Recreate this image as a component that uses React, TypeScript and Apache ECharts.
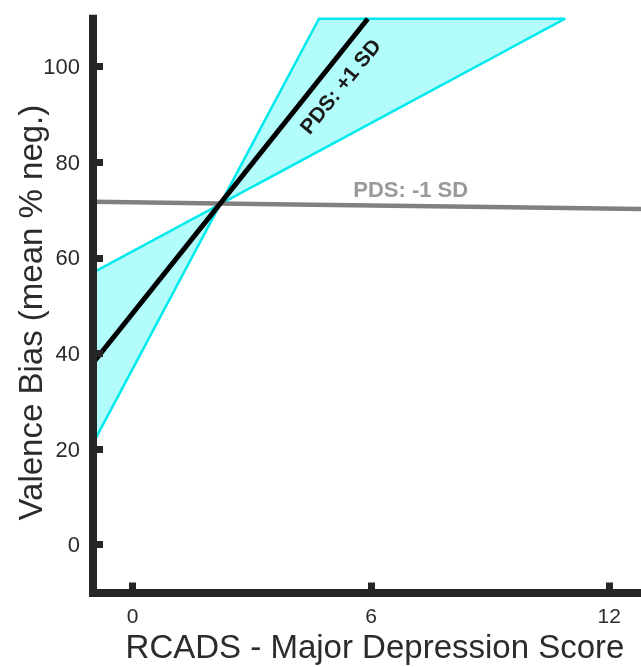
import React, { useEffect, useRef } from "react";
import * as echarts from "echarts";

// Data
const xTicks = [0, 6, 12];
const yTicks = [0, 20, 40, 60, 80, 100];

// PDS +1 SD regression line (clipped at the top of the axis)
const plusSdX = [-1, 5.92];
const plusSdY = [38, 110];

// PDS -1 SD regression line
const minusSdX = [-1, 12.8];
const minusSdY = [71.7, 70.2];

// Confidence band edges (both clipped at the top of the axis)
const bandShallowX = [-1, 10.89];
const bandShallowY = [56.9, 110];
const bandSteepX = [-1, 4.69];
const bandSteepY = [21.2, 110];

// Annotation labels
const labelTexts = ["PDS: +1 SD", "PDS: -1 SD"];
const labelX = [5.22, 7.0];
const labelY = [95.9, 74.2];

const FONT = 'Helvetica, "Liberation Sans", Arial, sans-serif';

export default function App() {
  const ref = useRef<HTMLDivElement>(null);

  useEffect(() => {
    if (!ref.current) return;
    const chart = echarts.init(ref.current, null, { renderer: "svg" });

    const bandPoly = [
      [bandShallowX[0], bandShallowY[0]],
      [bandShallowX[1], bandShallowY[1]],
      [bandSteepX[1], bandSteepY[1]],
      [bandSteepX[0], bandSteepY[0]],
    ];

    const plusData = plusSdX.map((x, i) => [x, plusSdY[i]]);
    const minusData = minusSdX.map((x, i) => [x, minusSdY[i]]);
    const labelData = labelTexts.map((t, i) => [labelX[i], labelY[i], i]);

    const axisColor = "#262626";
    const textColor = "#2b2b2b";

    chart.setOption({
      animation: false,
      grid: {
        left: 93,
        right: 0,
        top: 18.7,
        bottom: 74.5,
        containLabel: false,
        outerBoundsMode: "none",
      },
      xAxis: {
        type: "value",
        z: 10,
        min: -1,
        max: 12.8,
        name: "RCADS - Major Depression Score",
        nameLocation: "middle",
        nameGap: 37,
        nameMoveOverlap: false,
        nameTextStyle: {
          fontSize: 33,
          color: textColor,
          fontFamily: FONT,
          padding: [0, 0, 0, 16],
        },
        axisLine: { onZero: false, lineStyle: { color: axisColor, width: 8, cap: "square" } },
        axisTick: {
          show: true,
          inside: true,
          length: 10,
          customValues: xTicks,
          lineStyle: { color: axisColor, width: 7 },
        },
        axisLabel: {
          customValues: xTicks,
          fontSize: 21,
          color: textColor,
          fontFamily: FONT,
          margin: 12,
        },
        splitLine: { show: false },
      },
      yAxis: {
        type: "value",
        z: 10,
        min: -10,
        max: 110,
        name: "Valence Bias (mean % neg.)",
        nameLocation: "middle",
        nameGap: 46,
        nameMoveOverlap: false,
        nameTextStyle: {
          fontSize: 33,
          color: textColor,
          fontFamily: FONT,
          padding: [0, 14, 0, 0],
        },
        axisLine: { onZero: false, lineStyle: { color: axisColor, width: 8, cap: "square" } },
        axisTick: {
          show: true,
          inside: true,
          length: 10,
          customValues: yTicks,
          lineStyle: { color: axisColor, width: 7 },
        },
        axisLabel: {
          customValues: yTicks,
          fontSize: 22,
          color: textColor,
          fontFamily: FONT,
          margin: 13,
        },
        splitLine: { show: false },
      },
      series: [
        {
          type: "custom",
          name: "band",
          z: 1,
          data: bandPoly,
          renderItem: (params: any, api: any) => {
            if (params.dataIndex !== 0) return null;
            const pts = bandPoly.map((p) => api.coord(p));
            return {
              type: "polygon",
              shape: { points: pts },
              style: {
                fill: "#b3fcfc",
                stroke: "#00eaee",
                lineWidth: 2.5,
                lineJoin: "miter",
              },
            };
          },
        },
        {
          type: "line",
          name: "PDS: -1 SD",
          z: 2,
          data: minusData,
          showSymbol: false,
          symbol: "none",
          lineStyle: { color: "#808080", width: 4.5 },
        },
        {
          type: "line",
          name: "PDS: +1 SD",
          z: 3,
          data: plusData,
          showSymbol: false,
          symbol: "none",
          lineStyle: { color: "#000000", width: 5 },
        },
        {
          type: "custom",
          name: "labels",
          z: 4,
          data: labelData,
          renderItem: (params: any, api: any) => {
            const i = params.dataIndex;
            const p = api.coord([api.value(0), api.value(1)]);
            const isPlus = i === 0;
            return {
              type: "text",
              x: p[0],
              y: p[1],
              rotation: isPlus ? (51 * Math.PI) / 180 : 0,
              style: {
                text: labelTexts[i],
                fill: isPlus ? "#1a1a1a" : "#999999",
                font: `bold ${isPlus ? 21 : 22}px ${FONT}`,
                align: "center",
                verticalAlign: "middle",
              },
            };
          },
        },
      ],
    });

    return () => chart.dispose();
  }, []);

  return (
    <div
      ref={ref}
      style={{ position: "fixed", left: 0, top: 0, width: 641, height: 667 }}
    />
  );
}
